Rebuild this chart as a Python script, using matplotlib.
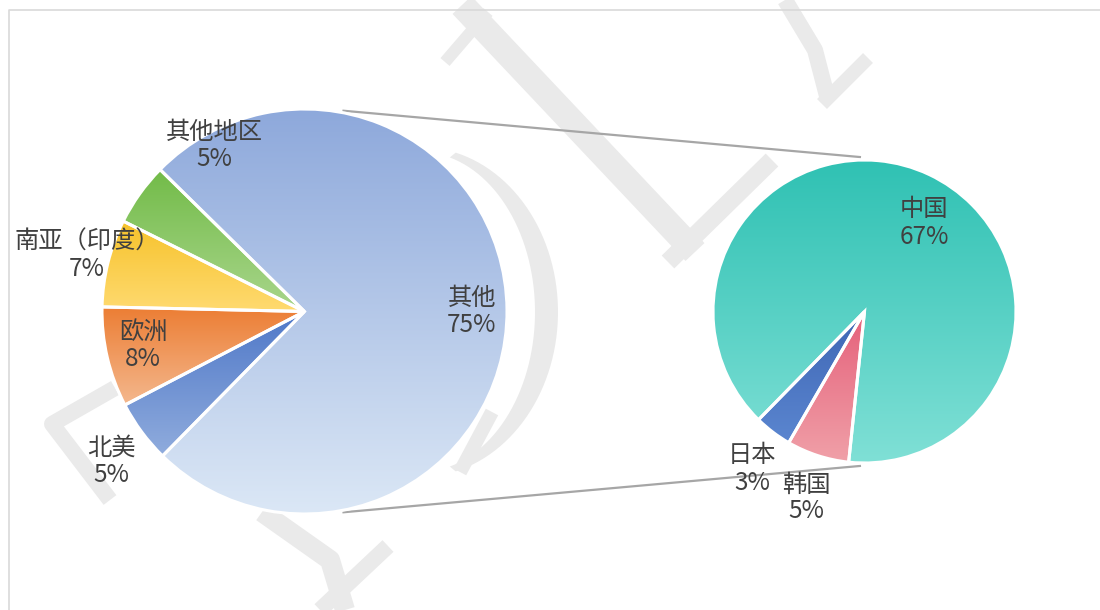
import matplotlib
matplotlib.use('Agg')
import matplotlib.pyplot as plt
import numpy as np

plt.rcParams['font.family'] = ['Noto Sans CJK SC', 'DejaVu Sans']

W, H = 1100, 610

# left pie: share of the total
left_labels = ["其他", "其他地区", "南亚（印度）", "欧洲", "北美"]
left_values = [75, 5, 7, 8, 5]
# right pie: breakdown of "其他"
right_labels = ["中国", "日本", "韩国"]
right_values = [67, 3, 5]

left_top = ["#8DA8DB", "#72BB48", "#F6C22A", "#EC7D33", "#4F78C8"]
left_bot = ["#DCE8F6", "#A9D68C", "#FFDA70", "#F4B88E", "#90ACDD"]
right_top = ["#2FC1B3", "#3E66B4", "#E5607A"]
right_bot = ["#80E0D6", "#5B86D0", "#F0A0A8"]

# label anchors (pixel coords)
left_label_xy = [(472, 311), (214, 145), (87, 255), (143, 345), (111, 461)]
right_label_xy = [(924, 223), (752, 469), (806, 498)]


def px(x, y):
    return x, H - y


def hex2rgb(h):
    return np.array([int(h[i:i + 2], 16) / 255 for i in (1, 3, 5)])


def fill_gradient(ax, wedge, c_top, c_bot):
    v = wedge.get_path().vertices
    x0, x1 = v[:, 0].min(), v[:, 0].max()
    y0, y1 = v[:, 1].min(), v[:, 1].max()
    t = np.linspace(0, 1, 256)[:, None]
    grad = (1 - t) * hex2rgb(c_top) + t * hex2rgb(c_bot)
    im = ax.imshow(grad[:, None, :], extent=[x0, x1, y0, y1], origin='upper',
                   aspect='auto', zorder=2, interpolation='bilinear')
    im.set_clip_path(wedge)


fig = plt.figure(figsize=(11, 6.1), dpi=100)
ax = fig.add_axes([0, 0, 1, 1])
ax.set_xlim(0, W)
ax.set_ylim(0, H)
ax.axis('off')

# watermark strokes (background decoration)
wm = dict(color="#EAEAEA", solid_capstyle='butt', zorder=0)
strokes = [
    ([462, 695], [5, 252], 26),
    ([445, 488], [62, 12], 12),
    ([785, 815, 828], [0, 50, 100], 16),
    ([868, 822], [58, 104], 14),
    ([772, 668], [160, 262], 18),
    ([115, 52, 110], [388, 424, 500], 16),
    ([262, 330, 345], [512, 560, 610], 20),
    ([388, 320], [546, 610], 16),
    ([492, 460], [412, 472], 14),
]
for xs, ys, lw in strokes:
    ax.plot(xs, [H - y for y in ys], lw=lw * 0.72, **wm)
th = np.linspace(-75, 75, 60)
ax.fill(np.r_[420 + 138 * np.cos(np.radians(th)), (420 + 115 * np.cos(np.radians(th)))[::-1]],
        np.r_[H - 312 + 165 * np.sin(np.radians(th)), (H - 312 + 160 * np.sin(np.radians(th)))[::-1]],
        color="#EAEAEA", zorder=0, lw=0)

# frame
ax.plot([9, 9, W], [0, H - 10, H - 10], color="#D9D9D9", lw=1.2, zorder=1)

lc, lr = px(304.5, 311.5), 202.5
rc, rr = px(864.5, 311.5), 151.5

lw_, _ = ax.pie(left_values, startangle=-134.5, counterclock=True, center=lc, radius=lr,
                wedgeprops=dict(facecolor='none', edgecolor='white', linewidth=2.2),
                frame=True)
rw_, _ = ax.pie(right_values, startangle=264, counterclock=True, center=rc, radius=rr,
                wedgeprops=dict(facecolor='none', edgecolor='white', linewidth=2.2),
                frame=True)
for w, a, b in zip(lw_, left_top, left_bot):
    w.set_zorder(3)
    fill_gradient(ax, w, a, b)
for w, a, b in zip(rw_, right_top, right_bot):
    w.set_zorder(3)
    fill_gradient(ax, w, a, b)

ax.set_xlim(0, W)
ax.set_ylim(0, H)
ax.set_aspect('auto')
ax.axis('off')

# connector lines
for la, ra in [(79, 91.7), (-79, -91.7)]:
    x0 = lc[0] + lr * 1.01 * np.cos(np.radians(la))
    y0 = lc[1] + lr * 1.01 * np.sin(np.radians(la))
    x1 = rc[0] + rr * 1.02 * np.cos(np.radians(ra))
    y1 = rc[1] + rr * 1.02 * np.sin(np.radians(ra))
    ax.plot([x0, x1], [y0, y1], color="#A6A6A6", lw=1.6, zorder=1)

tot_l = sum(left_values)
for name, v, (x, y) in zip(left_labels, left_values, left_label_xy):
    ax.text(x, H - y, f"{name}\n{round(100 * v / tot_l)}%", ha='center', va='center',
            fontsize=17.5, color="#404040", linespacing=1.05, zorder=5)
for name, v, (x, y) in zip(right_labels, right_values, right_label_xy):
    ax.text(x, H - y, f"{name}\n{v}%", ha='center', va='center',
            fontsize=17.5, color="#404040", linespacing=1.05, zorder=5)

fig.savefig("out.png", dpi=100)
